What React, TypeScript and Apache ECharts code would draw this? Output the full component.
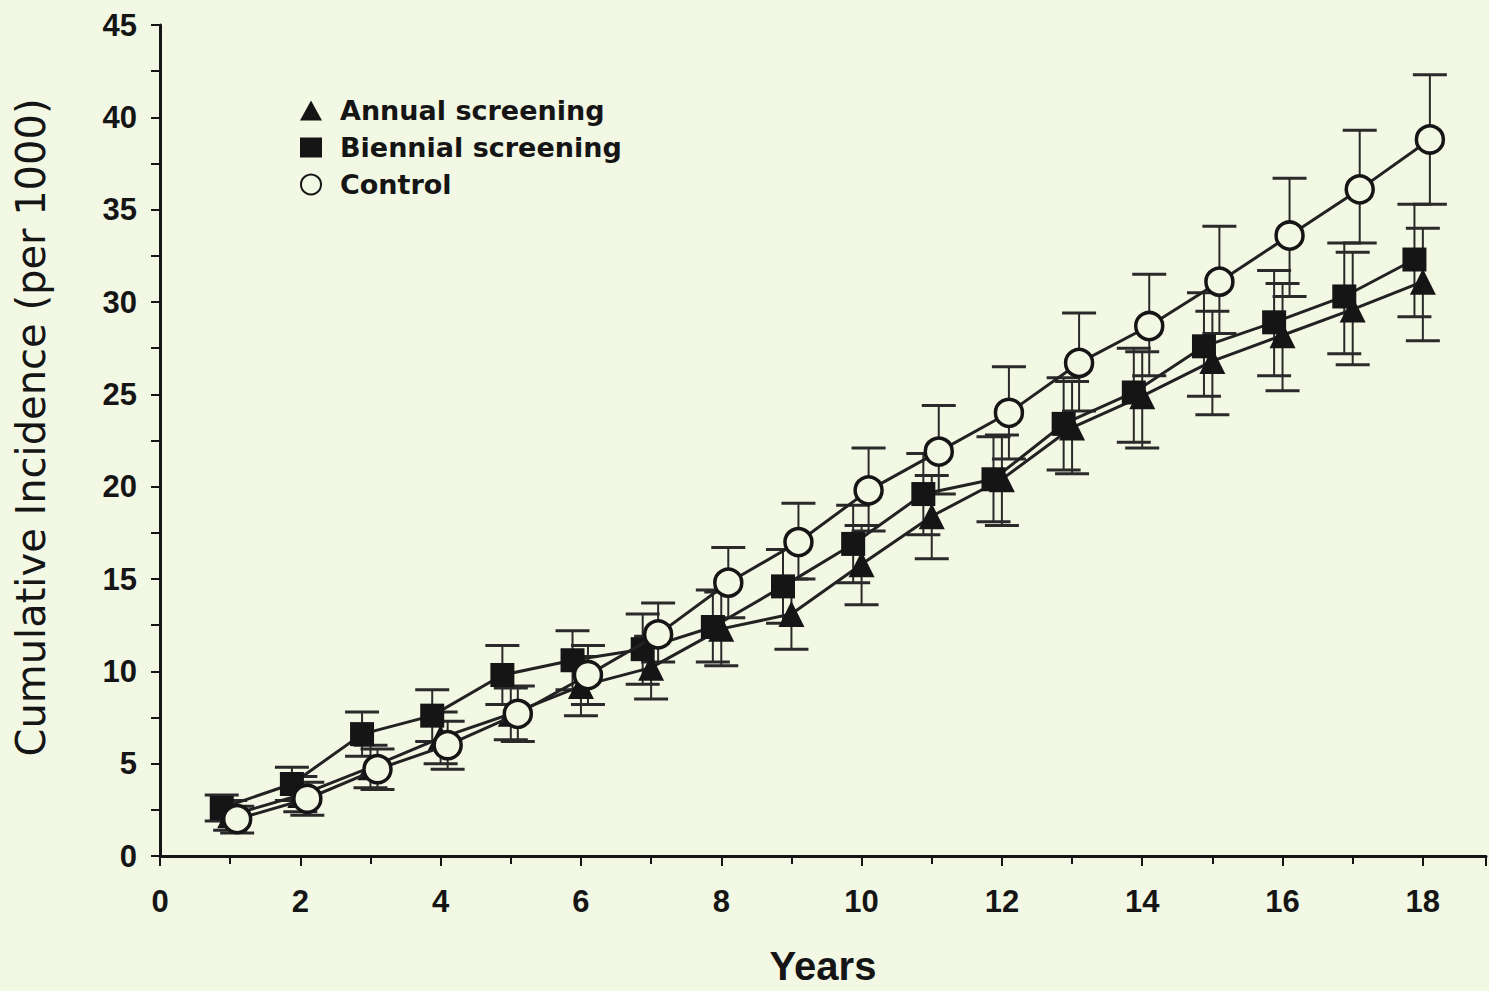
import React, { useEffect, useRef } from "react";
import * as echarts from "echarts";

const years = [1, 2, 3, 4, 5, 6, 7, 8, 9, 10, 11, 12, 13, 14, 15, 16, 17, 18];

const annual = [2.2, 3.3, 4.8, 6.4, 7.7, 9.2, 10.2, 12.3, 13.1, 15.8, 18.4, 20.4, 23.2, 24.9, 26.8, 28.2, 29.6, 31.1];
const annualLow = [1.4, 2.4, 3.7, 5.0, 6.3, 7.6, 8.5, 10.3, 11.2, 13.6, 16.1, 17.9, 20.7, 22.1, 23.9, 25.2, 26.6, 27.9];
const annualHigh = [3.0, 4.3, 6.0, 7.8, 9.1, 10.8, 11.9, 14.3, 15.0, 17.9, 20.6, 22.8, 25.7, 27.3, 29.5, 31.0, 32.7, 34.0];

const biennial = [2.6, 3.9, 6.6, 7.6, 9.8, 10.6, 11.2, 12.4, 14.6, 16.9, 19.6, 20.4, 23.4, 25.1, 27.6, 28.9, 30.3, 32.3];
const biennialLow = [1.9, 3.0, 5.4, 6.2, 8.2, 9.0, 9.3, 10.5, 12.6, 14.8, 17.4, 18.1, 20.9, 22.4, 24.9, 26.0, 27.2, 29.2];
const biennialHigh = [3.3, 4.8, 7.8, 9.0, 11.4, 12.2, 13.1, 14.4, 16.6, 19.0, 21.8, 22.7, 25.9, 27.5, 30.5, 31.7, 33.2, 35.3];

const control = [2.0, 3.1, 4.7, 6.0, 7.7, 9.8, 12.0, 14.8, 17.0, 19.8, 21.9, 24.0, 26.7, 28.7, 31.1, 33.6, 36.1, 38.8];
const controlLow = [1.25, 2.2, 3.6, 4.7, 6.2, 8.2, 10.5, 12.9, 15.0, 17.6, 19.6, 21.5, 24.1, 26.0, 28.3, 30.3, 33.2, 35.3];
const controlHigh = [2.7, 4.0, 5.8, 7.3, 9.2, 11.4, 13.7, 16.7, 19.1, 22.1, 24.4, 26.5, 29.4, 31.5, 34.1, 36.7, 39.3, 42.3];

// small horizontal dodge of each group (in years), as printed
const annualDodge = 0.0;
const biennialDodge = -0.12;
const controlDodge = 0.1;

const BG = "#f2f8e4";
const INK = "#151515";
const FONT = "'Liberation Sans', Arial, Helvetica, sans-serif";
const WIDE = "'DejaVu Sans', 'Liberation Sans', sans-serif";

function pts(vals: number[], dodge: number) {
  return years.map((y, i) => [y + dodge, vals[i]]);
}
function bars(lo: number[], hi: number[], dodge: number) {
  return years.map((y, i) => [y + dodge, lo[i], hi[i]]);
}

const renderErr = (params: any, api: any) => {
  const x = api.value(0);
  const p1 = api.coord([x, api.value(1)]);
  const p2 = api.coord([x, api.value(2)]);
  const hw = 17;
  return {
    type: "group",
    children: [
      { type: "line", shape: { x1: p1[0], y1: p1[1], x2: p2[0], y2: p2[1] }, style: { stroke: "#2a2a2a", lineWidth: 2 } },
      { type: "line", shape: { x1: p1[0] - hw, y1: p1[1], x2: p1[0] + hw, y2: p1[1] }, style: { stroke: "#2a2a2a", lineWidth: 3 } },
      { type: "line", shape: { x1: p2[0] - hw, y1: p2[1], x2: p2[0] + hw, y2: p2[1] }, style: { stroke: "#2a2a2a", lineWidth: 3 } },
    ],
  };
};

export default function App() {
  const ref = useRef<HTMLDivElement>(null);
  useEffect(() => {
    document.body.style.margin = "0";
    document.body.style.background = BG;
    const chart = echarts.init(ref.current!, undefined, { renderer: "svg" });
    const errSeries = (lo: number[], hi: number[], dodge: number) => ({
      type: "custom",
      renderItem: renderErr,
      data: bars(lo, hi, dodge),
      encode: { x: 0, y: [1, 2] },
      silent: true,
      z: 1,
    });
    chart.setOption({
      animation: false,
      backgroundColor: BG,
      textStyle: { fontFamily: FONT },
      grid: { left: 160, right: 0, top: 25, bottom: 113, containLabel: false },
      legend: {
        orient: "vertical",
        left: 295,
        top: 92,
        itemWidth: 22,
        itemHeight: 20,
        itemGap: 10,
        textStyle: { fontSize: 27, fontWeight: "bold", color: INK, fontFamily: WIDE, padding: [0, 0, 0, 13] },
        data: [
          { name: "Annual screening", icon: "triangle" },
          { name: "Biennial screening", icon: "rect" },
          { name: "Control", icon: "circle" },
        ],
      },
      xAxis: {
        type: "value",
        min: 0,
        max: 18.9,
        interval: 2,
        name: "Years",
        nameLocation: "middle",
        nameGap: 90,
        nameTextStyle: { fontSize: 40, fontWeight: "bold", color: INK, fontFamily: FONT },
        axisLine: { onZero: false, lineStyle: { color: INK, width: 3 } },
        axisTick: { show: true, length: 10, lineStyle: { color: INK, width: 2 } },
        minorTick: { show: true, splitNumber: 2, length: 8, lineStyle: { color: INK, width: 2 } },
        splitLine: { show: false },
        minorSplitLine: { show: false },
        axisLabel: {
          margin: 30,
          fontSize: 31,
          fontWeight: "bold",
          color: INK,
          fontFamily: FONT,
          formatter: (v: number) => (Number.isInteger(v) ? String(v) : ""),
        },
      },
      yAxis: {
        type: "value",
        min: 0,
        max: 45,
        interval: 5,
        name: "Cumulative Incidence (per 1000)",
        nameLocation: "middle",
        nameGap: 109,
        nameTextStyle: { fontSize: 40, color: INK, fontFamily: WIDE, padding: [0, 0, 0, 26] },
        axisLine: { onZero: false, lineStyle: { color: INK, width: 3 } },
        axisTick: { show: true, length: 9, lineStyle: { color: INK, width: 2 } },
        minorTick: { show: true, splitNumber: 2, length: 9, lineStyle: { color: INK, width: 2 } },
        splitLine: { show: false },
        minorSplitLine: { show: false },
        axisLabel: { margin: 23, fontSize: 31, fontWeight: "bold", color: INK, fontFamily: FONT },
      },
      series: [
        errSeries(annualLow, annualHigh, annualDodge),
        errSeries(biennialLow, biennialHigh, biennialDodge),
        errSeries(controlLow, controlHigh, controlDodge),
        {
          name: "Annual screening",
          type: "line",
          data: pts(annual, annualDodge),
          symbol: "triangle",
          symbolSize: 26,
          itemStyle: { color: INK },
          lineStyle: { color: "#222", width: 3 },
          z: 3,
        },
        {
          name: "Biennial screening",
          type: "line",
          data: pts(biennial, biennialDodge),
          symbol: "rect",
          symbolSize: 24,
          itemStyle: { color: INK },
          lineStyle: { color: "#222", width: 3 },
          z: 3,
        },
        {
          name: "Control",
          type: "line",
          data: pts(control, controlDodge),
          symbol: "circle",
          symbolSize: 27,
          itemStyle: { color: BG, borderColor: INK, borderWidth: 3.5 },
          lineStyle: { color: "#222", width: 3 },
          z: 4,
        },
      ],
    });
    return () => chart.dispose();
  }, []);
  return (
    <div
      ref={ref}
      style={{ position: "absolute", left: 0, top: 0, width: 1489, height: 991, background: BG }}
    />
  );
}
